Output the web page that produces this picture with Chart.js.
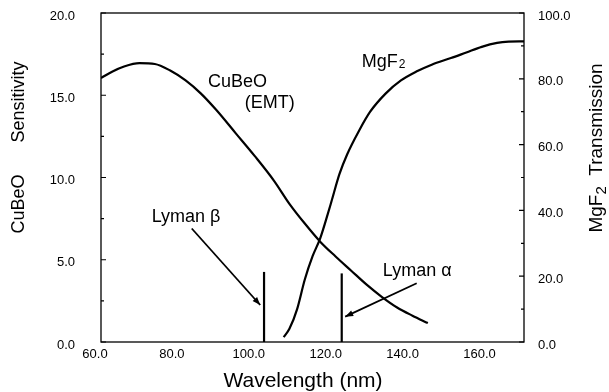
<!DOCTYPE html>
<html>
<head>
<meta charset="utf-8">
<script src="https://cdn.jsdelivr.net/npm/chart.js@4.4.1/dist/chart.umd.min.js"></script>
<style>
  html, body { margin: 0; padding: 0; background: #fff; }
  canvas { display: block; }
</style>
</head>
<body>
<canvas id="chart" width="609" height="392"></canvas>
<script>
// tick values
const xTicks = [60, 80, 100, 120, 140, 160];
const leftTicks = [0, 5, 10, 15, 20];
const leftMinor = [2.5, 7.5, 12.5, 17.5];
const rightTicks = [0, 20, 40, 60, 80, 100];
const rightMinor = [10, 30, 50, 70, 90];

// CuBeO (EMT) sensitivity, left axis
const cubeoWl   = [60, 63, 66, 70, 74, 78, 82, 86, 90, 95, 100, 105, 109, 113, 117, 121, 125, 129, 133, 137, 141, 145];
const cubeoSens = [16.05, 16.45, 16.75, 16.95, 16.9, 16.5, 15.9, 15.1, 14.1, 12.7, 11.3, 9.8, 8.4, 7.2, 6.1, 5.2, 4.35, 3.5, 2.75, 2.1, 1.6, 1.15];

// MgF2 transmission, right axis
const mgf2Wl    = [107.5, 109, 111, 113, 115, 117, 119, 120, 122, 124, 127, 130, 134, 138, 142, 146, 151, 155, 159, 163, 166, 170];
const mgf2Trans = [1.5, 4, 10, 19, 26, 31.5, 39, 43, 51, 57, 64, 70, 75.5, 79.5, 82.2, 84.3, 86.3, 88, 89.7, 90.9, 91.3, 91.4];

// Lyman lines (wavelength, height on left axis)
const lymanWl  = [102.4, 122.6];
const lymanTop = [4.26, 4.17];

// arrows: [fromX, fromY, toX, toY] in left-axis units
const arrowBeta  = [83.6, 6.9, 101.4, 2.25];
const arrowAlpha = [142.1, 3.57, 123.5, 1.54];

// text labels: [text, x, y]
const notes = [
  ['CuBeO', 87.8, 15.82],
  ['(EMT)', 97.4, 14.53],
  ['Lyman \u03b2', 73.2, 7.62],
  ['Lyman \u03b1', 133.3, 4.3]
];
const mgNote = [127.8, 17.04];

const FONT = '"Liberation Sans", Arial, Helvetica, sans-serif';

function pts(xs, ys) {
  return xs.map((x, i) => ({ x: x, y: ys[i] }));
}

const lineBase = {
  showLine: true, pointRadius: 0, borderColor: '#000', backgroundColor: '#000',
  fill: false
};

const datasets = [
  Object.assign({}, lineBase, { data: pts(cubeoWl, cubeoSens), borderWidth: 2.2, cubicInterpolationMode: 'monotone', yAxisID: 'y' }),
  Object.assign({}, lineBase, { data: pts(mgf2Wl, mgf2Trans), borderWidth: 2.2, cubicInterpolationMode: 'monotone', yAxisID: 'y1' }),
  Object.assign({}, lineBase, { data: [{ x: lymanWl[0], y: 0 }, { x: lymanWl[0], y: lymanTop[0] }], borderWidth: 2.2, yAxisID: 'y' }),
  Object.assign({}, lineBase, { data: [{ x: lymanWl[1], y: 0 }, { x: lymanWl[1], y: lymanTop[1] }], borderWidth: 2.2, yAxisID: 'y' }),
  Object.assign({}, lineBase, { data: [{ x: arrowBeta[0], y: arrowBeta[1] }, { x: arrowBeta[2], y: arrowBeta[3] }], borderWidth: 1.8, yAxisID: 'y', arrow: true }),
  Object.assign({}, lineBase, { data: [{ x: arrowAlpha[0], y: arrowAlpha[1] }, { x: arrowAlpha[2], y: arrowAlpha[3] }], borderWidth: 1.8, yAxisID: 'y', arrow: true })
];

const decor = {
  id: 'decor',
  afterDraw(chart) {
    const ctx = chart.ctx;
    const a = chart.chartArea;
    const sx = chart.scales.x, sy = chart.scales.y, sy1 = chart.scales.y1;
    ctx.save();
    ctx.strokeStyle = '#000';
    ctx.fillStyle = '#000';

    // frame
    ctx.lineWidth = 1.3;
    ctx.strokeRect(a.left, a.top, a.right - a.left, a.bottom - a.top);

    // inward ticks
    ctx.lineWidth = 1.2;
    ctx.beginPath();
    leftTicks.forEach(v => { const p = sy.getPixelForValue(v); ctx.moveTo(a.left, p); ctx.lineTo(a.left + 5, p); });
    leftMinor.forEach(v => { const p = sy.getPixelForValue(v); ctx.moveTo(a.left, p); ctx.lineTo(a.left + 3, p); });
    rightTicks.forEach(v => { const p = sy1.getPixelForValue(v); ctx.moveTo(a.right, p); ctx.lineTo(a.right - 5, p); });
    rightMinor.forEach(v => { const p = sy1.getPixelForValue(v); ctx.moveTo(a.right, p); ctx.lineTo(a.right - 3, p); });
    ctx.stroke();

    // arrowheads
    chart.data.datasets.forEach((ds, i) => {
      if (!ds.arrow) return;
      const pts = chart.getDatasetMeta(i).data;
      const p0 = pts[0], p1 = pts[1];
      const ang = Math.atan2(p1.y - p0.y, p1.x - p0.x);
      const len = 8, w = 3;
      ctx.beginPath();
      ctx.moveTo(p1.x, p1.y);
      ctx.lineTo(p1.x - len * Math.cos(ang) + w * Math.sin(ang), p1.y - len * Math.sin(ang) - w * Math.cos(ang));
      ctx.lineTo(p1.x - len * Math.cos(ang) - w * Math.sin(ang), p1.y - len * Math.sin(ang) + w * Math.cos(ang));
      ctx.closePath();
      ctx.fill();
    });

    // notes
    ctx.font = '18px ' + FONT;
    ctx.textAlign = 'left';
    ctx.textBaseline = 'middle';
    notes.forEach(n => ctx.fillText(n[0], sx.getPixelForValue(n[1]), sy.getPixelForValue(n[2])));
    let mx = sx.getPixelForValue(mgNote[0]), my = sy.getPixelForValue(mgNote[1]);
    ctx.fillText('MgF', mx, my);
    let w = ctx.measureText('MgF').width;
    ctx.font = '12px ' + FONT;
    ctx.fillText('2', mx + w + 1, my + 3);

    // axis titles
    ctx.font = '21px ' + FONT;
    ctx.textAlign = 'center';
    ctx.fillText('Wavelength (nm)', 303, 381);

    ctx.save();
    ctx.translate(19, 0);
    ctx.rotate(-Math.PI / 2);
    ctx.font = '18px ' + FONT;
    ctx.fillText('CuBeO', -204, 0);
    ctx.fillText('Sensitivity', -102, 0);
    ctx.restore();

    // right title with subscript
    ctx.save();
    ctx.translate(597, 0);
    ctx.rotate(-Math.PI / 2);
    ctx.font = '19px ' + FONT;
    const t1 = 'MgF', t3 = '  Transmission';
    const w1 = ctx.measureText(t1).width, w3 = ctx.measureText(t3).width;
    ctx.font = '15px ' + FONT;
    const w2 = ctx.measureText('2').width;
    const total = w1 + w2 + w3;
    let x0 = -148 - total / 2;
    ctx.textAlign = 'left';
    ctx.font = '19px ' + FONT;
    ctx.fillText(t1, x0, 0);
    ctx.font = '15px ' + FONT;
    ctx.fillText('2', x0 + w1, 5);
    ctx.font = '19px ' + FONT;
    ctx.fillText(t3, x0 + w1 + w2, 0);
    ctx.restore();

    ctx.restore();
  }
};

const tickFont = { family: FONT, size: 13 };

new Chart(document.getElementById('chart').getContext('2d'), {
  type: 'scatter',
  data: { datasets: datasets },
  options: {
    responsive: false,
    animation: false,
    layout: { padding: { top: 13, left: 0, right: 0, bottom: 0 } },
    plugins: { legend: { display: false }, tooltip: { enabled: false } },
    scales: {
      x: {
        type: 'linear', min: 60, max: 170,
        afterBuildTicks: s => { s.ticks = xTicks.map(v => ({ value: v })); },
        afterFit: s => { s.height = 50; s.paddingLeft = 0; s.paddingRight = 0; },
        grid: { display: false, drawTicks: false },
        border: { display: false },
        ticks: { color: '#000', font: tickFont, padding: 5, labelOffset: -6, maxRotation: 0, autoSkip: false,
                 callback: v => v.toFixed(1) }
      },
      y: {
        position: 'left', min: 0, max: 20,
        afterBuildTicks: s => { s.ticks = leftTicks.map(v => ({ value: v })); },
        afterFit: s => { s.width = 101; s.paddingTop = 0; s.paddingBottom = 0; },
        grid: { display: false, drawTicks: false },
        border: { display: false },
        ticks: { color: '#000', font: tickFont, padding: 26, labelOffset: 3, callback: v => v.toFixed(1) }
      },
      y1: {
        position: 'right', min: 0, max: 100,
        afterBuildTicks: s => { s.ticks = rightTicks.map(v => ({ value: v })); },
        afterFit: s => { s.width = 85; s.paddingTop = 0; s.paddingBottom = 0; },
        grid: { display: false, drawTicks: false },
        border: { display: false },
        ticks: { color: '#000', font: tickFont, padding: 14, labelOffset: 3, callback: v => v.toFixed(1) }
      }
    }
  },
  plugins: [decor]
});
</script>
</body>
</html>
